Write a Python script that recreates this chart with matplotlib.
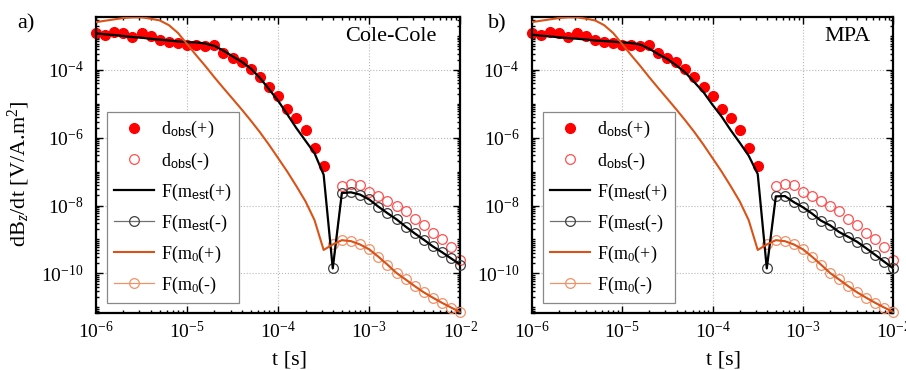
import numpy as np
import matplotlib
matplotlib.use("Agg")
import matplotlib.pyplot as plt
from matplotlib.ticker import LogLocator, NullFormatter

plt.rcParams['font.family'] = ['Liberation Serif', 'DejaVu Serif']
plt.rcParams['mathtext.fontset'] = 'custom'
plt.rcParams['mathtext.rm'] = 'Liberation Serif'
plt.rcParams['mathtext.it'] = 'Liberation Serif:italic'
plt.rcParams['mathtext.sf'] = 'Liberation Sans'

# time gates [s]
t = [1.00e-6, 1.26e-6, 1.58e-6, 2.00e-6, 2.51e-6, 3.16e-6, 3.98e-6, 5.01e-6, 6.31e-6, 7.94e-6,
     1.00e-5, 1.26e-5, 1.58e-5, 2.00e-5, 2.51e-5, 3.16e-5, 3.98e-5, 5.01e-5, 6.31e-5, 7.94e-5,
     1.00e-4, 1.26e-4, 1.58e-4, 2.00e-4, 2.51e-4, 3.16e-4, 3.98e-4, 5.01e-4, 6.31e-4, 7.94e-4,
     1.00e-3, 1.26e-3, 1.58e-3, 2.00e-3, 2.51e-3, 3.16e-3, 3.98e-3, 5.01e-3, 6.31e-3, 7.94e-3,
     1.00e-2]

# observed data (signed, nan = missing gate)
d_obs = [1.26e-3, 1.07e-3, 1.35e-3, 1.26e-3, 9.5e-4, 1.20e-3, 1.00e-3, 7.6e-4, 6.8e-4, 6.2e-4,
         5.5e-4, 5.5e-4, 5.0e-4, 5.4e-4, 3.1e-4, 2.3e-4, 1.74e-4, 1.05e-4, 6.2e-5, 3.1e-5,
         1.74e-5, 6.9e-6, 3.7e-6, 1.74e-6, 4.9e-7, 1.51e-7, np.nan, -3.7e-8, -4.2e-8, -3.9e-8,
         -2.45e-8, -1.95e-8, -1.35e-8, -9.5e-9, -6.8e-9, -3.9e-9, -2.75e-9, -1.58e-9, -1.0e-9, -5.8e-10,
         -2.4e-10]

# estimated model response, Cole-Cole
f_est_cc = [1.20e-3, 1.12e-3, 1.07e-3, 1.00e-3, 9.3e-4, 8.9e-4, 8.3e-4, 7.8e-4, 7.4e-4, 6.9e-4,
            6.6e-4, 6.5e-4, 6.0e-4, 5.1e-4, 3.7e-4, 2.5e-4, 1.74e-4, 1.10e-4, 5.8e-5, 2.7e-5,
            1.23e-5, 4.9e-6, 1.95e-6, 8.1e-7, 3.5e-7, 8.1e-8, -1.4e-10, -2.35e-8, -2.45e-8, -2.1e-8,
            -1.51e-8, -9.3e-9, -6.0e-9, -3.9e-9, -2.4e-9, -1.51e-9, -9.8e-10, -6.2e-10, -4.2e-10, -2.75e-10,
            -1.82e-10]

# estimated model response, MPA
f_est_mpa = [1.10e-3, 1.02e-3, 9.8e-4, 9.1e-4, 8.7e-4, 8.3e-4, 7.9e-4, 7.4e-4, 7.1e-4, 6.8e-4,
             6.5e-4, 6.2e-4, 5.6e-4, 4.2e-4, 2.9e-4, 2.1e-4, 1.35e-4, 8.3e-5, 4.3e-5, 2.2e-5,
             9.3e-6, 4.2e-6, 1.70e-6, 7.1e-7, 2.95e-7, 8.5e-8, -1.4e-10, -1.86e-8, -1.9e-8, -1.26e-8,
             -8.9e-9, -5.8e-9, -3.6e-9, -2.6e-9, -1.66e-9, -1.20e-9, -8.5e-10, -5.5e-10, -3.5e-10, -2.2e-10,
             -1.4e-10]

# initial model response
f_m0 = [2.57e-3, 2.82e-3, 3.09e-3, 3.39e-3, 3.55e-3, 3.55e-3, 3.24e-3, 2.88e-3, 2.09e-3, 1.23e-3,
        5.8e-4, 2.7e-4, 1.32e-4, 6.0e-5, 2.9e-5, 1.41e-5, 6.8e-6, 3.2e-6, 1.45e-6, 6.2e-7,
        2.5e-7, 1.0e-7, 3.8e-8, 1.32e-8, 3.7e-9, 4.9e-10, -7.1e-10, -9.5e-10, -8.9e-10, -7.1e-10,
        -5.1e-10, -3.1e-10, -1.82e-10, -1.02e-10, -6.6e-11, -4.2e-11, -2.75e-11, -1.91e-11, -1.35e-11, -9.8e-12,
        -7.2e-12]

labels = [r'd$_{\mathsf{obs}}$(+)', r'd$_{\mathsf{obs}}$(-)', r'F(m$_{\mathsf{est}}$(+)',
          r'F(m$_{\mathsf{est}}$(-)', r'F(m$_0$(+)', r'F(m$_0$(-)']


def pos(v):
    v = np.asarray(v, float)
    return np.where(v > 0, v, np.nan)


def neg(v):
    v = np.asarray(v, float)
    return np.where(v < 0, -v, np.nan)


def panel(ax, f_est, name, show_ylabel):
    tt = np.array(t)
    h1, = ax.plot(tt, pos(d_obs), 'o', color='#ff0000', ms=7, mec='#ff0000', clip_on=False, zorder=2)
    h2, = ax.plot(tt, neg(d_obs), 'o', mfc='none', mec='#ff5050', ms=7, mew=0.9, clip_on=False, zorder=2)
    h4, = ax.plot(tt, neg(f_est), 'o-', color='#707070', mec='#404040', mfc='none', ms=7, mew=0.9,
                  lw=0.9, clip_on=False, zorder=3)
    h6, = ax.plot(tt, neg(f_m0), 'o-', color='#f0926a', mec='#f0926a', mfc='none', ms=7, mew=0.9,
                  lw=0.9, clip_on=False, zorder=3)
    h3, = ax.plot(tt, np.abs(f_est), '-', color='black', lw=1.6, zorder=4)
    h5, = ax.plot(tt, np.abs(f_m0), '-', color='#d95319', lw=1.5, zorder=4)

    ax.set_xscale('log')
    ax.set_yscale('log')
    ax.set_xlim(1e-6, 1e-2)
    ax.set_ylim(10 ** -11.17, 10 ** -2.44)
    ax.set_xticks([1e-6, 1e-5, 1e-4, 1e-3, 1e-2])
    ax.set_yticks([1e-10, 1e-8, 1e-6, 1e-4])
    ax.xaxis.set_minor_locator(LogLocator(base=10, subs=np.arange(2, 10), numticks=100))
    ax.yaxis.set_minor_locator(LogLocator(base=10, subs=np.arange(1, 10), numticks=100))
    ax.xaxis.set_minor_formatter(NullFormatter())
    ax.yaxis.set_minor_formatter(NullFormatter())
    ax.tick_params(which='both', direction='in', top=True, right=True, labelsize=14, width=1)
    ax.tick_params(which='major', length=5)
    ax.tick_params(which='minor', length=2.5)
    ax.tick_params(axis='x', pad=6)
    ax.tick_params(axis='y', pad=9)
    for s in ax.spines.values():
        s.set_linewidth(1.6)
    ax.grid(True, which='major', ls=':', color='#b8b8b8', lw=0.8)

    ax.set_xlabel('t [s]', fontsize=16)
    ax.xaxis.set_label_coords(0.53, -0.125)
    if show_ylabel:
        ax.set_ylabel(r'dB$_z$/dt [V/A.m$^2$]', fontsize=16)
        ax.yaxis.set_label_coords(-0.175, 0.47)

    ax.text(0.936, 0.933, name, transform=ax.transAxes, ha='right', va='center', fontsize=16)

    leg = ax.legend([h1, h2, h3, h4, h5, h6], labels, loc='lower left',
                    bbox_to_anchor=(0.03, 0.034), fontsize=13, fancybox=False,
                    edgecolor='#888888', framealpha=1, borderpad=0.4, labelspacing=0.55,
                    handlelength=2.2, handletextpad=0.4, borderaxespad=0)
    leg.get_frame().set_linewidth(0.9)
    leg.set_zorder(10)


fig = plt.figure(figsize=(9.06, 3.7), dpi=100)
ax1 = fig.add_axes([0.106, 0.154, 0.402, 0.8])
ax2 = fig.add_axes([0.587, 0.154, 0.399, 0.8])
panel(ax1, f_est_cc, 'Cole-Cole', True)
panel(ax2, f_est_mpa, 'MPA', False)
fig.text(0.019, 0.935, 'a)', fontsize=16, ha='left', va='center')
fig.text(0.539, 0.935, 'b)', fontsize=16, ha='left', va='center')

fig.savefig('out.png', dpi=100)
